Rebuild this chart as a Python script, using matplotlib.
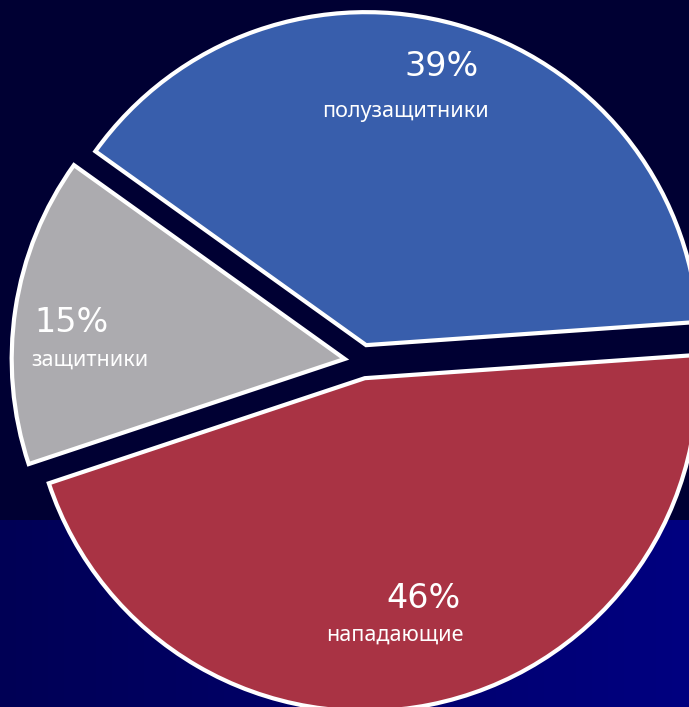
import numpy as np
import matplotlib
matplotlib.use("Agg")
import matplotlib.pyplot as plt

# Data
categories = ["полузащитники", "защитники", "нападающие"]
shares = [39, 15, 46]
colors = ["#385EAC", "#ACABAF", "#A93344"]

# label positions (center of percentage / center of caption), pixel coords from top-left
pct_pos = [(442, 67), (71, 323), (423, 598)]
cap_pos = [(406, 111), (90, 360), (395, 635)]

W, H = 689, 707
plt.rcParams["font.family"] = ["Noto Sans", "DejaVu Sans"]

fig = plt.figure(figsize=(W / 100, H / 100), dpi=100)
ax = fig.add_axes([0, 0, 1, 1])

# background: dark navy top, brighter blue band at the bottom
bg = np.zeros((H, W, 3))
bg[:, :, 2] = 51 / 255
band = np.arange(H) >= 520
grad = np.linspace(85, 128, W) / 255
bg[band, :, 2] = grad
ax.imshow(bg, extent=(0, W, 0, H), origin="upper", zorder=0, aspect="auto")

ax.pie(shares, colors=colors, startangle=4, counterclock=True,
       center=(361.5, H - 361.5), radius=333, explode=[17] * len(shares),
       wedgeprops=dict(edgecolor="white", linewidth=3), frame=True)

for s, (px, py) in zip(shares, pct_pos):
    ax.text(px, H - py, f"{s}%", color="white", fontsize=24, ha="center",
            va="center", family="DejaVu Sans", fontweight="normal")
for name, (cx, cy) in zip(categories, cap_pos):
    ax.text(cx, H - cy, name, color="white", fontsize=15.5, ha="center", va="center")

ax.set_xlim(0, W)
ax.set_ylim(0, H)
ax.set_aspect("auto")
ax.axis("off")

fig.savefig("out.png", dpi=100)
